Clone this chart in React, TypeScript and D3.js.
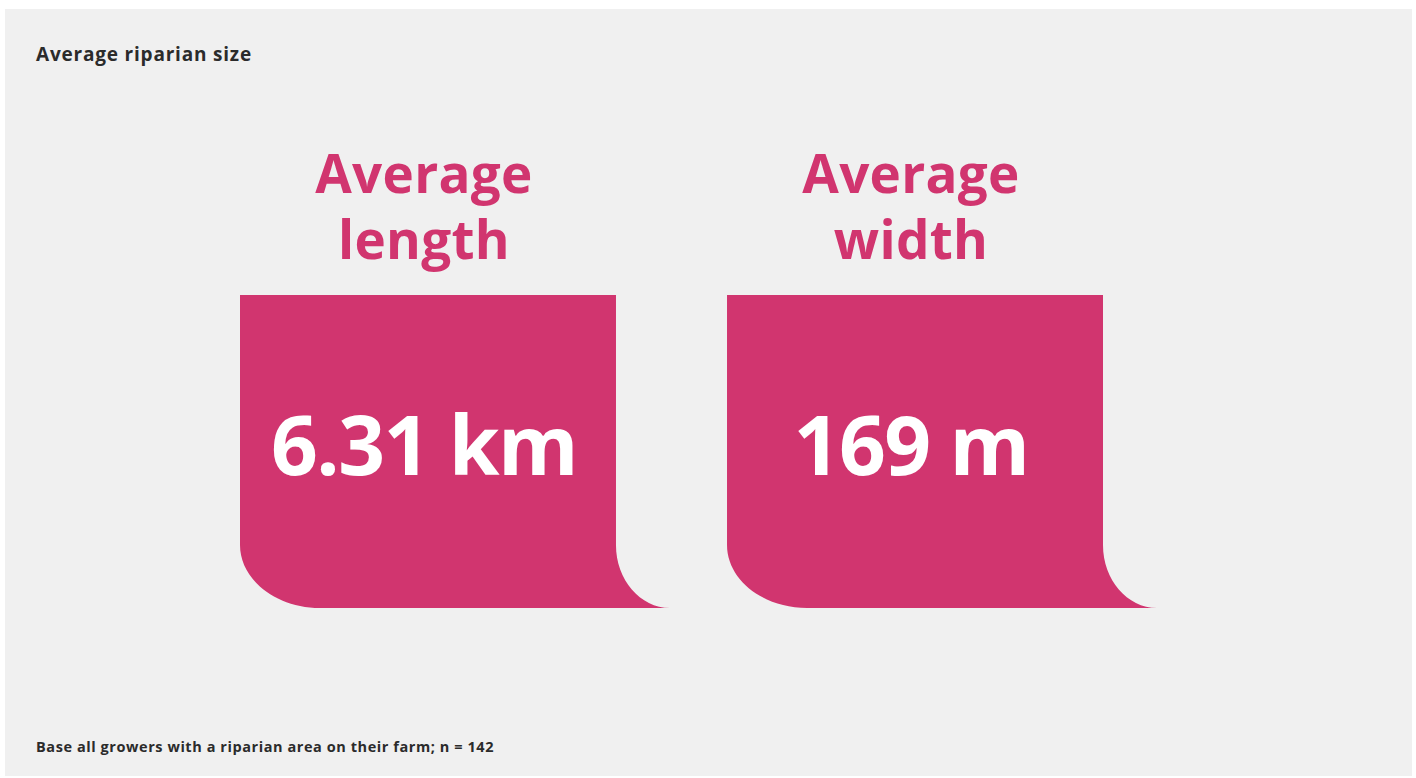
import React from "react";
import * as d3 from "d3";

const metrics = ["Average length", "Average width"];
const values = ["6.31", "169"];
const units = ["km", "m"];

const width = 1416;
const height = 778;
const pink = "#d1356f";
const font = "'Open Sans', Lato, sans-serif";

// box geometry
const boxTop = 295;
const boxBottom = 608;
const cornerRx = 80;
const cornerRy = 63;
const tailRx = 54;

const x = d3
  .scaleBand<string>()
  .domain(metrics)
  .range([240, 1103])
  .paddingInner(0.228)
  .paddingOuter(0);

const boxPath = (x0: number, x1: number) => {
  const p = d3.path();
  const yc = boxBottom - cornerRy;
  p.moveTo(x0, boxTop);
  p.lineTo(x1, boxTop);
  p.lineTo(x1, yc);
  // concave tail on the right
  p.bezierCurveTo(x1, yc + cornerRy * 0.55, x1 + tailRx * 0.45, boxBottom, x1 + tailRx, boxBottom);
  p.lineTo(x0 + cornerRx, boxBottom);
  // rounded bottom-left corner
  p.bezierCurveTo(x0 + cornerRx * 0.45, boxBottom, x0, yc + cornerRy * 0.55, x0, yc);
  p.closePath();
  return p.toString();
};

export default function App() {
  const bw = x.bandwidth();
  return (
    <div style={{ position: "absolute", left: 0, top: 0 }}>
      <svg width={width} height={height} style={{ display: "block" }}>
        <rect width={width} height={height} fill="#fff" />
        <rect x={5} y={9} width={1407} height={767} fill="#f0f0f0" />
        <text x={36} y={61} fontFamily={font} fontWeight={700} fontSize={19} letterSpacing={0.8} fill="#2b2b2b">
          Average riparian size
        </text>
        {metrics.map((m, i) => {
          const x0 = x(m)!;
          const cx = x0 + bw / 2 - 4;
          const words = m.split(" ");
          return (
            <g key={m}>
              <path d={boxPath(x0, x0 + bw)} fill={pink} />
              {words.map((w, j) => (
                <text
                  key={w}
                  x={cx}
                  y={193 + j * 66}
                  textAnchor="middle"
                  fontFamily={font}
                  fontWeight={700}
                  fontSize={53}
                  letterSpacing={0.3}
                  fill={pink}
                >
                  {w}
                </text>
              ))}
              <text
                x={cx}
                y={475}
                textAnchor="middle"
                fontFamily={font}
                fontWeight={700}
                fontSize={82}
                letterSpacing={-1.5}
                fill="#fff"
              >
                {values[i] + " " + units[i]}
              </text>
            </g>
          );
        })}
        <text x={36} y={752} fontFamily={font} fontWeight={700} fontSize={14.5} letterSpacing={0.57} fill="#2b2b2b">
          Base all growers with a riparian area on their farm; n = 142
        </text>
      </svg>
    </div>
  );
}
